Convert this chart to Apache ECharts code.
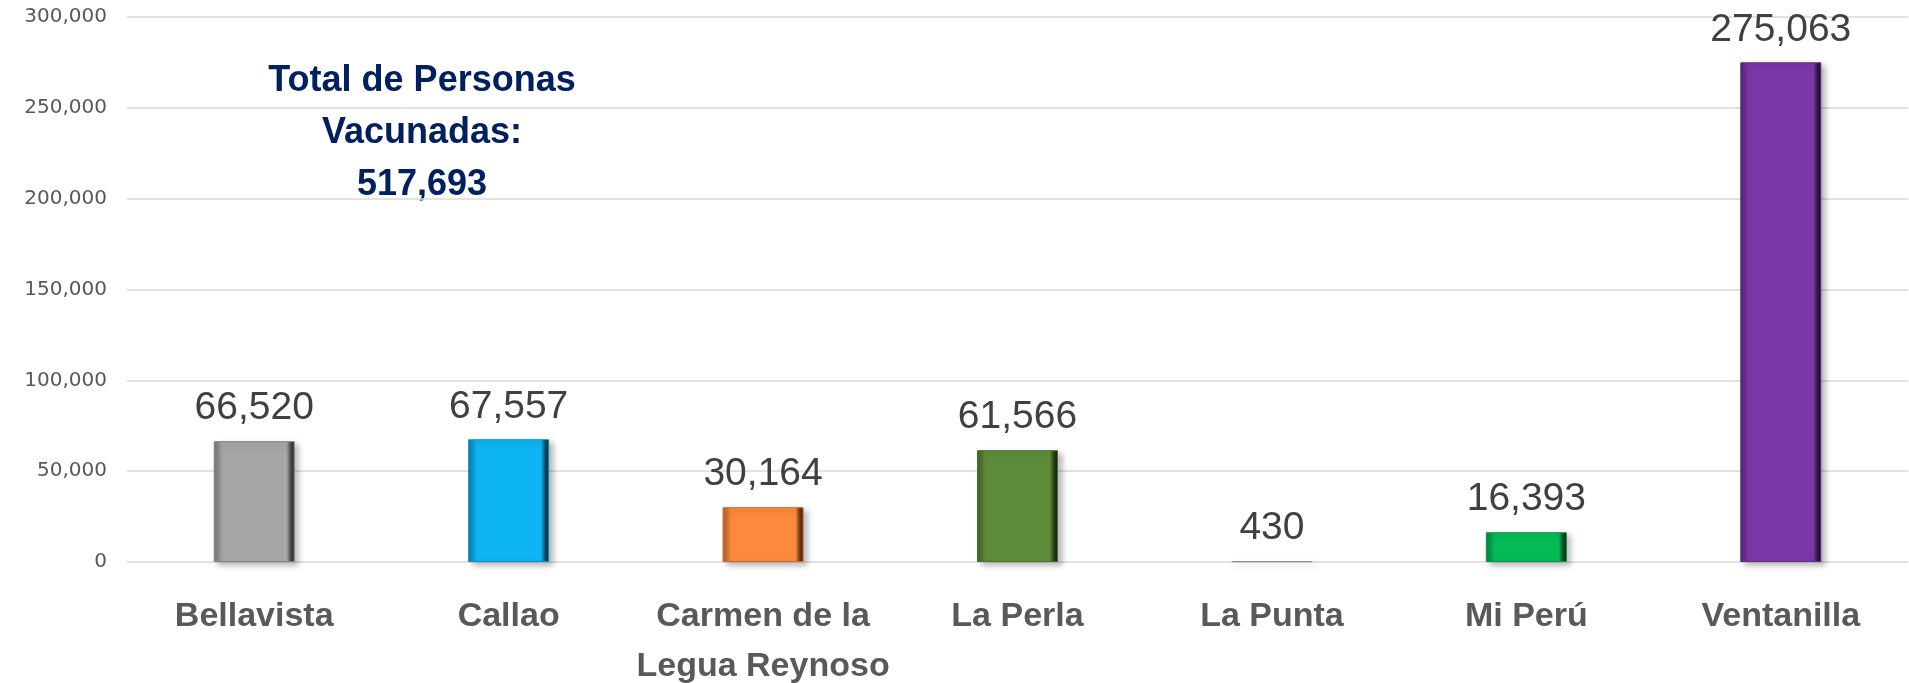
<!DOCTYPE html>
<html>
<head>
<meta charset="utf-8">
<title>Personas vacunadas por distrito</title>
<script src="https://cdn.jsdelivr.net/npm/echarts@6/dist/echarts.min.js"></script>
<style>
  html, body { margin: 0; padding: 0; background: #fff; }
  #chart { width: 1909px; height: 683px; }
</style>
</head>
<body>
<div id="chart"></div>
<script>
const districts = ['Bellavista', 'Callao', 'Carmen de la\nLegua Reynoso', 'La Perla', 'La Punta', 'Mi Perú', 'Ventanilla']
const vaccinated = [66520, 67557, 30164, 61566, 430, 16393, 275063]
const barColors = ['#a6a6a6', '#0db5f3', '#fb8a3c', '#5e8b3a', '#a9b8cf', '#05bb57', '#7a38a6']
const yTicks = [0, 50000, 100000, 150000, 200000, 250000, 300000]

const fmt = v => v.toLocaleString('en-US')
const total = vaccinated.reduce((a, b) => a + b, 0)

// darken a hex colour by factor k
function shade(hex, k) {
  const n = parseInt(hex.slice(1), 16)
  const r = Math.round(((n >> 16) & 255) * k)
  const g = Math.round(((n >> 8) & 255) * k)
  const b = Math.round((n & 255) * k)
  return 'rgb(' + r + ',' + g + ',' + b + ')'
}

// bevel look: light-ish left edge, flat face, dark right edge
function bevel(c) {
  return {
    type: 'linear', x: 0, y: 0, x2: 1, y2: 0,
    colorStops: [
      { offset: 0, color: shade(c, 0.7) },
      { offset: 0.06, color: shade(c, 0.85) },
      { offset: 0.1, color: c },
      { offset: 0.9, color: c },
      { offset: 0.95, color: shade(c, 0.45) },
      { offset: 1, color: shade(c, 0.2) }
    ]
  }
}

const chart = echarts.init(document.getElementById('chart'))
const option = {
  animation: false,
  grid: { left: 127, right: 1, top: 17, bottom: 121, outerBoundsMode: 'none', containLabel: false },
  xAxis: {
    type: 'category',
    data: districts,
    axisLine: { show: false },
    axisTick: { show: false },
    axisLabel: {
      interval: 0,
      margin: 30,
      color: '#595959',
      fontFamily: 'Liberation Sans',
      fontWeight: 'bold',
      fontSize: 34,
      lineHeight: 50
    }
  },
  yAxis: {
    type: 'value',
    min: yTicks[0],
    max: yTicks[yTicks.length - 1],
    interval: yTicks[1] - yTicks[0],
    axisLine: { show: false },
    axisTick: { show: false },
    axisLabel: {
      margin: 20,
      color: '#595959',
      fontFamily: 'DejaVu Sans',
      fontSize: 20,
      formatter: v => fmt(v)
    },
    splitLine: { lineStyle: { color: '#d9d9d9', width: 1.5 } }
  },
  series: [{
    type: 'bar',
    barWidth: 81,
    data: vaccinated.map((v, i) => ({
      value: v,
      itemStyle: {
        color: bevel(barColors[i]),
        borderColor: shade(barColors[i], 0.8),
        borderWidth: 1,
        shadowColor: 'rgba(0,0,0,0.28)',
        shadowBlur: 6,
        shadowOffsetX: 4,
        shadowOffsetY: 3
      }
    })),
    label: {
      show: true,
      position: 'top',
      distance: 13,
      color: '#404040',
      fontFamily: 'Liberation Sans',
      fontSize: 39,
      formatter: p => fmt(p.value)
    }
  }],
  graphic: [{
    type: 'text',
    x: 422,
    y: 55,
    style: {
      text: 'Total de Personas\nVacunadas:\n' + fmt(total),
      align: 'center',
      verticalAlign: 'top',
      fill: '#002060',
      font: 'bold 36px "Liberation Sans"',
      lineHeight: 52
    }
  }]
}
chart.setOption(option)
</script>
</body>
</html>
